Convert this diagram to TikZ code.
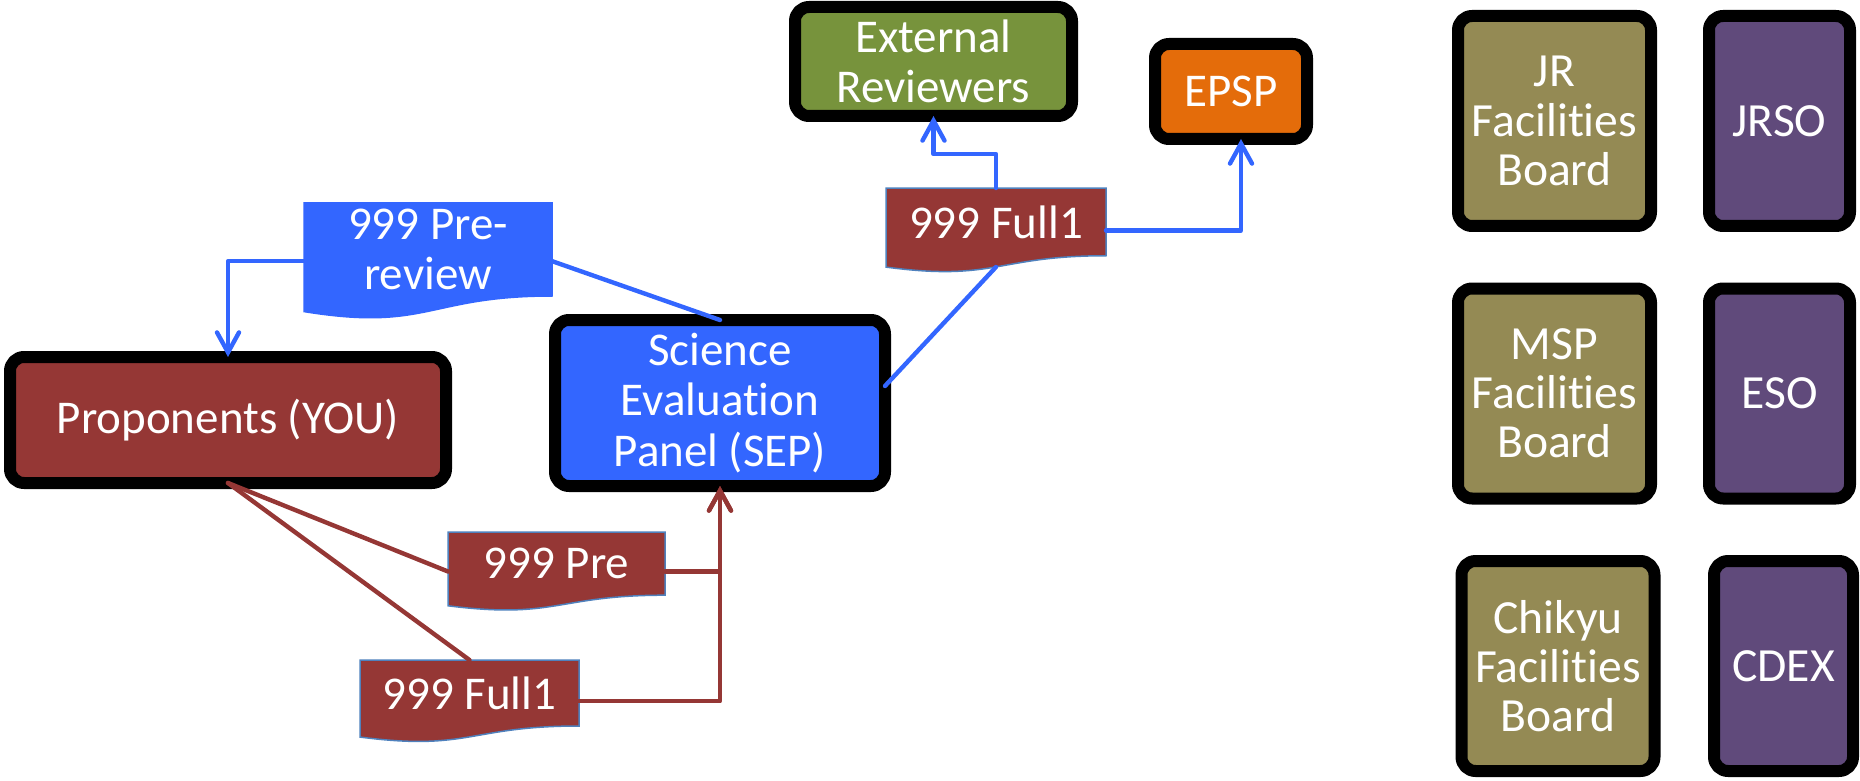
\documentclass[tikz,border=0pt]{standalone}
\usepackage{fontspec}
\setmainfont{Carlito}[Ligatures={NoCommon,NoContextual}]
\usetikzlibrary{arrows.meta,calc,backgrounds}

\definecolor{propred}{HTML}{953735}
\definecolor{sepblue}{HTML}{3366FF}
\definecolor{revgreen}{HTML}{77933C}
\definecolor{epsporange}{HTML}{E46C0A}
\definecolor{boardolive}{HTML}{948A54}
\definecolor{officepurple}{HTML}{604A7B}
\definecolor{docedge}{HTML}{4F81BD}

% wavy "document" background drawn from the anchors of a text node,
% plus connection points on its sides and bottom
\newcommand\docbg[3]{%
  \path[fill=#2, draw=#3, line width=0.75pt]
    (#1.north west) -- (#1.north east) -- (#1.south east)
    .. controls (#1.south) and ($(#1.south)!-0.384!(#1.north)$)
    .. ($(#1.south west)!-0.1675!(#1.north west)$) -- cycle;
  \coordinate (#1-w) at ($(#1.west)!0.25!(#1.south west)$);
  \coordinate (#1-e) at ($(#1.east)!0.25!(#1.south east)$);
  \coordinate (#1-b) at ($(#1.south)!-0.166!(#1.north)$);
}

\tikzset{
  box/.style={draw=black, line width=6pt, rounded corners=7pt, outer sep=0pt,
    inner sep=0pt, text=white, align=center,
    font=\fontsize{23.5pt}{25.2pt}\selectfont},
  boardbox/.style={box, fill=boardolive, minimum width=96.5pt, minimum height=105pt,
    font=\fontsize{23.8pt}{24.6pt}\selectfont},
  officebox/.style={box, fill=officepurple, minimum height=105pt,
    font=\fontsize{23.8pt}{24.6pt}\selectfont},
  docnode/.style={inner sep=0pt, outer sep=0pt, text=white, align=center,
    font=\fontsize{23.5pt}{25.2pt}\selectfont},
  bluelink/.style={draw=sepblue, line width=2.2pt},
  redlink/.style={draw=propred, line width=2.2pt},
  tip/.style={-{Straight Barb[length=10pt, width=11pt, line cap=round]}},
}

\begin{document}
\begin{tikzpicture}[x=0.5pt, y=-0.5pt, line cap=round, line join=round]
\useasboundingbox (0,0) rectangle (1860,781);

% main flow boxes
\node[box, fill=propred, minimum width=218pt, minimum height=63pt] (prop) at (228,420) {Proponents (YOU)};
\node[box, fill=sepblue, minimum width=165pt, minimum height=83pt] (sep) at (720,403) {Science\\Evaluation\\Panel (SEP)};
\node[box, fill=revgreen, minimum width=138.5pt, minimum height=54.5pt] (ext) at (933.5,61.5) {External\\Reviewers};
\node[box, fill=epsporange, minimum width=76pt, minimum height=47.5pt] (epsp) at (1231,91.5) {EPSP};

% facility boards and operators
\node[boardbox] (jrfb) at (1554.5,121) {JR\\Facilities\\Board};
\node[officebox, minimum width=70.5pt] (jrso) at (1779.5,121) {JRSO};
\node[boardbox] (mspfb) at (1554.5,393.5) {MSP\\Facilities\\Board};
\node[officebox, minimum width=70.5pt] (eso) at (1779.5,393.5) {ESO};
\node[boardbox] (chfb) at (1558,666) {Chikyu\\Facilities\\Board};
\node[officebox, minimum width=69.5pt] (cdex) at (1783.5,666) {CDEX};

% proposal documents
\node[docnode, minimum width=124pt, minimum height=46.5pt] (prer) at (428,249.5) {999 Pre-\\review};
\node[docnode, minimum width=110pt, minimum height=33.85pt] (fullt) at (996,221.9) {999 Full1};
\node[docnode, minimum width=108.5pt, minimum height=31.6pt] (pre) at (556.5,563.6) {999 Pre};
\node[docnode, minimum width=109.5pt, minimum height=33pt] (fullb) at (469.5,693) {999 Full1};

\begin{scope}[on background layer]
  \docbg{prer}{sepblue}{sepblue}
  \docbg{fullt}{propred}{docedge}
  \docbg{pre}{propred}{docedge}
  \docbg{fullb}{propred}{docedge}
\end{scope}

% submissions to the panel
\draw[redlink] (prop.south) -- (pre-w);
\draw[redlink] (prop.south) -- (fullb.north);
\draw[redlink, tip] (pre-e) -| (sep.south);
\draw[redlink, tip] (fullb-e) -| (sep.south);

% pre-review returned to proponents
\draw[bluelink] (prer-e) -- (sep.north);
\draw[bluelink, tip] (prer-w) -| (prop.north);

% full proposal forwarded
\draw[bluelink] ([yshift=8.5pt]sep.east) -- (fullt-b);
\draw[bluelink, tip] (fullt.north) -- ++(0,-34) -| (ext.south);
\draw[bluelink, tip] (fullt-e) -| ([xshift=5pt]epsp.south);
\end{tikzpicture}
\end{document}
